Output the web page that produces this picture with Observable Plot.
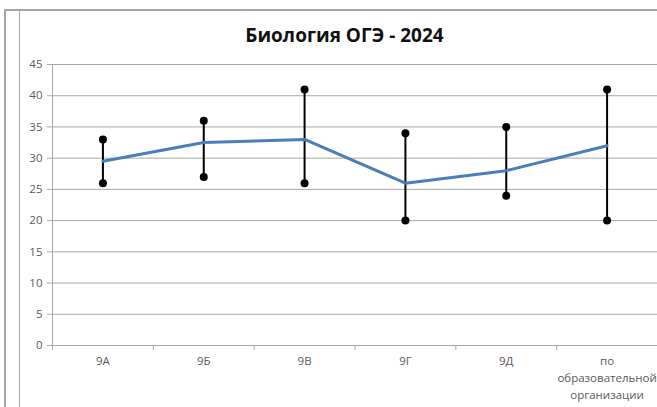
<!DOCTYPE html>
<html><head><meta charset="utf-8">
<script src="https://cdn.jsdelivr.net/npm/d3@7"></script>
<script src="https://cdn.jsdelivr.net/npm/@observablehq/plot@0.6"></script>
<style>
html,body{margin:0;padding:0;background:#fff;}
#wrap{position:relative;width:657px;height:407px;overflow:hidden;}
#wrap svg{position:absolute;left:0;top:0;}
.fr1{position:absolute;left:4px;top:9px;width:2px;height:400px;background:#a6a6a6;}
.fr2{position:absolute;left:4px;top:9px;width:660px;height:2px;background:#a6a6a6;}
.fr3{position:absolute;left:19px;top:11px;width:1px;height:400px;background:#a6a6a6;}
#title{position:absolute;left:26px;width:637px;top:22px;text-align:center;font-family:"Open Sans",sans-serif;font-weight:bold;font-size:19px;color:#111;}
</style></head>
<body><div id="wrap"><div class="fr1"></div><div class="fr2"></div><div class="fr3"></div><div id="title">Биология ОГЭ - 2024</div></div>
<script>
const categories = ["9А","9Б","9В","9Г","9Д","по образовательной организации"];
const means = [29.5, 32.5, 33, 26, 28, 32];
const mins = [26, 27, 26, 20, 24, 20];
const maxs = [33, 36, 41, 34, 35, 41];
const yTicks = [0,5,10,15,20,25,30,35,40,45];
const tickLabels = {"по образовательной организации": "по\nобразовательной\nорганизации"};

const data = categories.map((c,i)=>({cat:c, mean:means[i], min:mins[i], max:maxs[i]}));
const W = 657, H = 407, mL = 52, mR = 0, mT = 64, mB = 62;
const half = (W - mL - mR) / categories.length / 2;

const chart = Plot.plot({
  width: W, height: H,
  marginLeft: mL, marginRight: mR, marginTop: mT, marginBottom: mB,
  style: {fontFamily: "'Open Sans', sans-serif", fontSize: "11.5px", color: "#595959", background: "transparent"},
  x: {type: "band", domain: categories, padding: 0, round: false, label: null},
  y: {domain: [0, 45], label: null},
  marks: [
    Plot.ruleY(yTicks, {stroke: "#a8a8a8", strokeWidth: 1}),
    Plot.ruleX([0], {x: () => categories[0], dx: -half, stroke: "#a8a8a8", strokeWidth: 1}),
    Plot.ruleX(categories, {x: d => d, dx: -half, stroke: "#a8a8a8", insetTop: H - mT - mB, insetBottom: -5}),
    Plot.ruleX([categories[categories.length-1]], {x: d => d, dx: half, stroke: "#a8a8a8", insetTop: H - mT - mB, insetBottom: -5}),
    Plot.axisY({ticks: yTicks, tickSize: 5, tickPadding: 5, stroke: "#a8a8a8", fill: "#595959", fontSize: 11.5, label: null}),
    Plot.axisX({tickSize: 0, tickPadding: 7, tickFormat: d => tickLabels[d] ?? d, lineHeight: 1.5, fill: "#595959", fontSize: 11.5, label: null}),
    Plot.ruleX(data, {x: "cat", y1: "min", y2: "max", stroke: "#000", strokeWidth: 2}),
    Plot.line(data, {x: "cat", y: "mean", stroke: "#4a7ebb", strokeWidth: 3}),
    Plot.dot(data, {x: "cat", y: "min", r: 4, fill: "#000"}),
    Plot.dot(data, {x: "cat", y: "max", r: 4, fill: "#000"})
  ]
});
document.getElementById("wrap").prepend(chart);
</script></body></html>
